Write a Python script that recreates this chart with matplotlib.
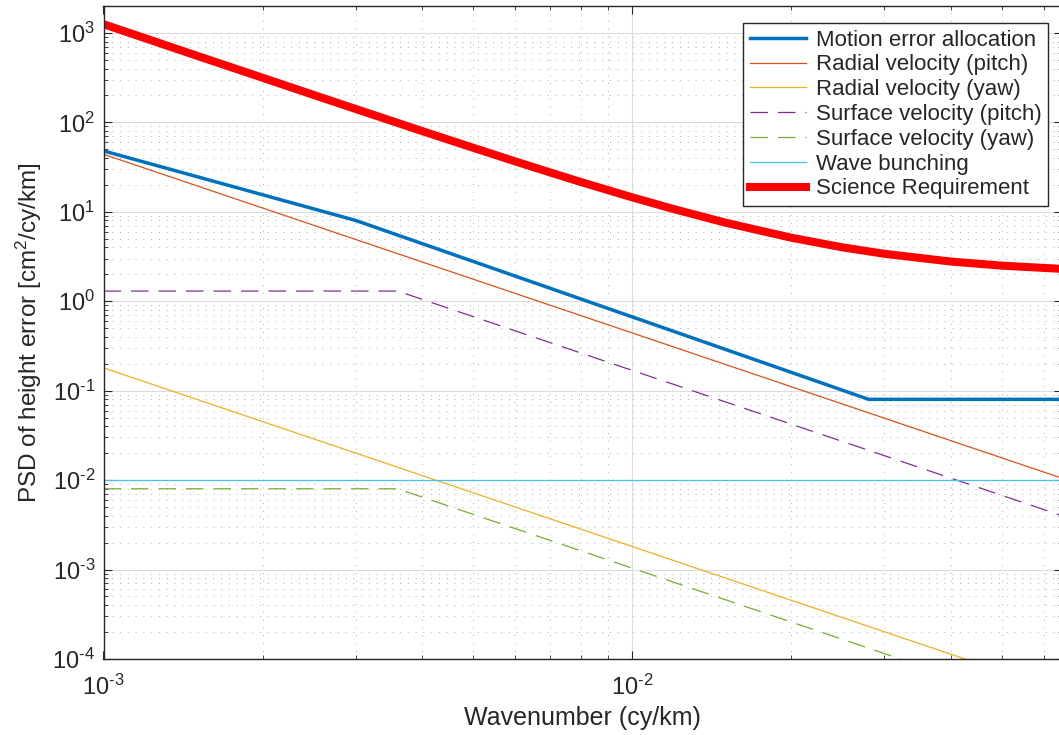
import numpy as np
import matplotlib
matplotlib.use('Agg')
import matplotlib.pyplot as plt
from matplotlib.ticker import LogLocator, NullFormatter, FuncFormatter

plt.rcParams['font.family'] = ['Liberation Sans', 'DejaVu Sans']
plt.rcParams['mathtext.fontset'] = 'custom'
plt.rcParams['mathtext.rm'] = 'Liberation Sans'
plt.rcParams['mathtext.it'] = 'Liberation Sans:italic'
plt.rcParams['mathtext.sf'] = 'Liberation Sans'
plt.rcParams['mathtext.default'] = 'regular'
plt.rcParams['axes.unicode_minus'] = False

# 读图得到的数据 (wavenumber cy/km, PSD cm^2/cy/km)
k_motion = [0.001, 0.003, 0.028, 0.065]
psd_motion = [48.0, 8.0, 0.08, 0.08]

k_rad_pitch = [0.001, 0.065]
psd_rad_pitch = [44.0, 0.0105]

k_rad_yaw = [0.001, 0.065]
psd_rad_yaw = [0.18, 4.3e-5]

k_surf_pitch = [0.001, 0.0036, 0.065]
psd_surf_pitch = [1.3, 1.3, 0.004]

k_surf_yaw = [0.001, 0.0036, 0.065]
psd_surf_yaw = [0.008, 0.008, 2.45e-5]

k_wave = [0.001, 0.065]
psd_wave = [0.01, 0.01]

k_req = [0.001, 0.0012, 0.0015, 0.002, 0.0025, 0.003, 0.004, 0.005, 0.006, 0.007,
         0.008, 0.01, 0.012, 0.015, 0.02, 0.025, 0.03, 0.04, 0.05, 0.065]
psd_req = [1252, 870, 557, 315, 202, 141, 80.1, 52.0, 36.7, 27.5,
           21.5, 14.5, 10.7, 7.56, 5.13, 4.0, 3.39, 2.78, 2.5, 2.30]

labels = ['Motion error allocation', 'Radial velocity (pitch)', 'Radial velocity (yaw)',
          'Surface velocity (pitch)', 'Surface velocity (yaw)', 'Wave bunching',
          'Science Requirement']

W, H = 1059, 735
fig = plt.figure(figsize=(W / 100, H / 100), dpi=100)
ax = fig.add_axes([103.5 / W, 76 / H, (1062 - 103.5) / W, (659 - 6) / H])

dash = (0, (14, 8))
ax.loglog(k_motion, psd_motion, color='#0072BD', lw=2.5, label=labels[0])
ax.loglog(k_rad_pitch, psd_rad_pitch, color='#D95319', lw=0.9, label=labels[1])
ax.loglog(k_rad_yaw, psd_rad_yaw, color='#EDB120', lw=0.9, label=labels[2])
ax.loglog(k_surf_pitch, psd_surf_pitch, color='#7E2F8E', lw=0.9, ls=dash, label=labels[3])
ax.loglog(k_surf_yaw, psd_surf_yaw, color='#77AC30', lw=0.9, ls=dash, label=labels[4])
ax.loglog(k_wave, psd_wave, color='#4DBEEE', lw=0.9, label=labels[5])
ax.loglog(k_req, psd_req, color='#FF0000', lw=5.8, label=labels[6])

ax.set_xlim(1e-3, 0.065)
ax.set_ylim(1e-4, 2e3)


def pow10(v, pos):
    e = int(round(np.log10(v)))
    if e < 0:
        return r'$10^{\text{-}%d}$' % (-e)
    return r'$10^{%d}$' % e


ax.xaxis.set_major_locator(LogLocator(base=10, numticks=10))
ax.yaxis.set_major_locator(LogLocator(base=10, numticks=20))
ax.xaxis.set_major_formatter(FuncFormatter(pow10))
ax.yaxis.set_major_formatter(FuncFormatter(pow10))
ax.xaxis.set_minor_locator(LogLocator(base=10, subs=np.arange(2, 10), numticks=20))
ax.yaxis.set_minor_locator(LogLocator(base=10, subs=np.arange(2, 10), numticks=40))
ax.xaxis.set_minor_formatter(NullFormatter())
ax.yaxis.set_minor_formatter(NullFormatter())

dark = '#262626'
ax.tick_params(which='both', direction='in', top=True, right=True, colors=dark,
               labelsize=17)
ax.tick_params(which='major', length=6, width=0.8)
ax.tick_params(which='minor', length=3, width=0.6)
ax.tick_params(axis='x', pad=11)
ax.tick_params(axis='y', pad=6)
for s in ax.spines.values():
    s.set_color(dark)
    s.set_linewidth(1.0)

ax.grid(True, which='major', color='#dcdcdc', lw=0.8, ls='-')
ax.grid(True, which='minor', color='#9a9a9a', lw=0.7, ls=(0, (1, 7)), alpha=0.8)
ax.set_axisbelow(True)

ax.set_xlabel('Wavenumber (cy/km)', fontsize=18, color=dark, labelpad=5)
ax.set_ylabel('PSD of height error [cm$^2$/cy/km]', fontsize=17.5, color=dark, labelpad=6)

leg = fig.legend(loc='upper right', bbox_to_anchor=(1048 / W, (H - 23) / H),
                 fontsize=16, frameon=True, fancybox=False, framealpha=1,
                 edgecolor=dark, handlelength=2.5, labelspacing=0.17,
                 borderpad=0.3, handletextpad=0.45, borderaxespad=0)
leg.get_frame().set_linewidth(1.0)
for t in leg.get_texts():
    t.set_color(dark)

fig.savefig('out.png', dpi=100)
